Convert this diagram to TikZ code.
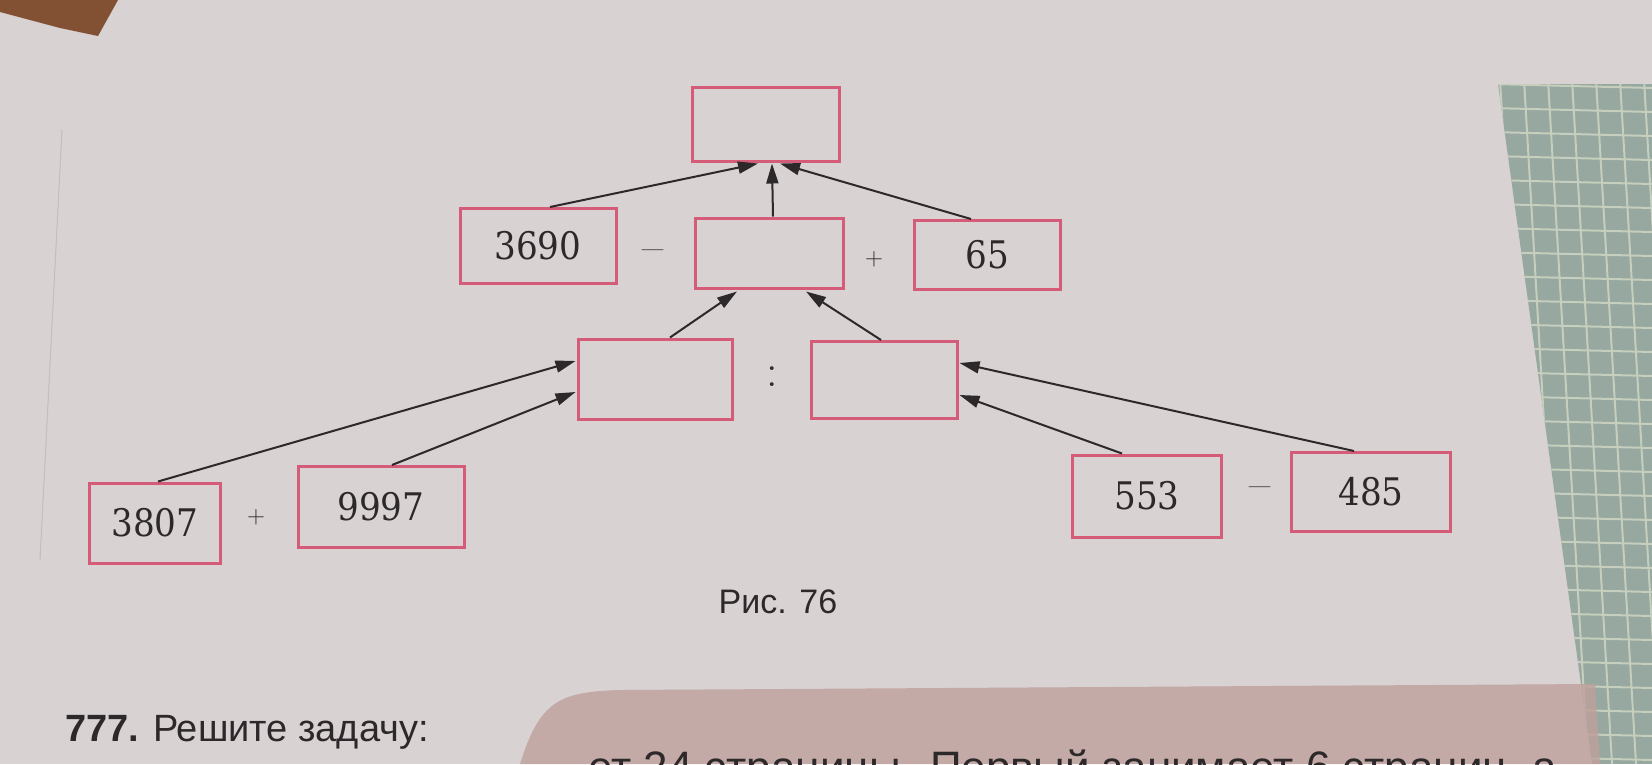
\documentclass[tikz,border=0pt]{standalone}
\usepackage{fontspec}
\usetikzlibrary{arrows.meta,calc}
\newfontfamily\capfont{Liberation Sans}
\newfontfamily\numfont[FakeStretch=0.9]{DejaVu Serif}
\definecolor{page}{RGB}{216,210,211}
\definecolor{boxred}{RGB}{212,92,120}
\definecolor{ink}{RGB}{45,40,42}
\definecolor{tile}{RGB}{150,168,160}
\definecolor{tileline}{RGB}{198,206,190}
\definecolor{shadowcol}{RGB}{190,160,155}
\definecolor{corner}{RGB}{130,80,50}
\begin{document}
\begin{tikzpicture}[x=1pt,y=-1pt,
  box/.style={draw=boxred,line width=3pt,inner sep=0pt,text=ink,font=\numfont\fontsize{38}{44}\selectfont},
  op/.style={text=ink,inner sep=0pt,font=\fontsize{46}{52}\selectfont},
  arr/.style={draw=ink,line width=2pt,-{Triangle[length=20pt,width=12pt]}},
  captext/.style={text=ink,inner sep=0pt,font=\capfont\fontsize{34}{40}\selectfont}]
\useasboundingbox (0,0) rectangle (1652,764);
\fill[page] (0,0) rectangle (1652,764);
% photo surroundings
\fill[corner] (0,0) -- (118,0) -- (98,36) -- (60,28) -- (0,12) -- cycle;
\draw[ink!30,line width=1pt] (62,130) -- (40,560);
\begin{scope}
  \clip (1498,84) -- (1652,84) -- (1652,764) -- (1592,764) -- cycle;
  \fill[tile] (1490,80) rectangle (1652,764);
  \foreach \yy in {84,108,...,764} \draw[tileline,line width=2pt] (1490,\yy) -- (1652,\yy+4);
  \foreach \xx in {1500,1524,...,1660} \draw[tileline,line width=2pt] (\xx,80) -- (\xx+40,764);
\end{scope}
\fill[shadowcol,opacity=0.8] (520,764) .. controls (540,700) and (560,692) .. (620,690) -- (1595,684) -- (1600,764) -- cycle;
% boxes
\node[box,minimum width=147pt,minimum height=74pt] (top) at (766,124) {};
\node[box,minimum width=156pt,minimum height=75pt] (a) at (538,246) {3690};
\node[box,minimum width=148pt,minimum height=70pt] (m) at (769,253) {};
\node[box,minimum width=146pt,minimum height=69pt] (b) at (987,255) {65};
\node[box,minimum width=154pt,minimum height=80pt] (l) at (655,379) {};
\node[box,minimum width=146pt,minimum height=77pt] (r) at (884,380) {};
\node[box,minimum width=131pt,minimum height=80pt] (c) at (155,523) {3807};
\node[box,minimum width=166pt,minimum height=81pt] (d) at (381,507) {9997};
\node[box,minimum width=149pt,minimum height=82pt] (e) at (1147,496) {553};
\node[box,minimum width=159pt,minimum height=79pt] (f) at (1371,492) {485};
% operators
\node[op] (o1) at (653,256) {–};
\node[op] (o2) at (874,259) {$+$};
\node[op] (o3) at (772,377) {:};
\node[op] (o4) at (256,517) {$+$};
\node[op] (o5) at (1260,493) {–};
% arrows
\draw[arr] ($(a.north)+(12,0)$) -- ($(top.south)+(-8,1)$);
\draw[arr] ($(m.north)+(4,0)$) -- ($(top.south)+(6,1)$);
\draw[arr] ($(b.north)+(-16,0)$) -- ($(top.south)+(14,1)$);
\draw[arr] ($(l.north)+(15,0)$) -- ($(m.south)+(-32,2)$);
\draw[arr] ($(r.north)+(-3,0)$) -- ($(m.south)+(37,2)$);
\draw[arr] ($(c.north)+(3,0)$) -- ($(l.west)+(-1,-18)$);
\draw[arr] ($(d.north)+(11,0)$) -- ($(l.west)+(-1,13)$);
\draw[arr] ($(e.north)+(-25,0)$) -- ($(r.east)+(1,15)$);
\draw[arr] ($(f.north)+(-17,0)$) -- ($(r.east)+(1,-17)$);
% captions
\node[captext,anchor=base] (fig) at (778,613) {Рис. 76};
\node[captext,anchor=base west,font=\capfont\fontsize{38}{44}\selectfont] (task) at (65,741) {\textbf{777.} Решите задачу:};
\node[captext,anchor=base west,font=\capfont\fontsize{44}{50}\selectfont] (line) at (588,782) {ет 24 страницы. Первый занимает 6 страниц, а};
\end{tikzpicture}
\end{document}
